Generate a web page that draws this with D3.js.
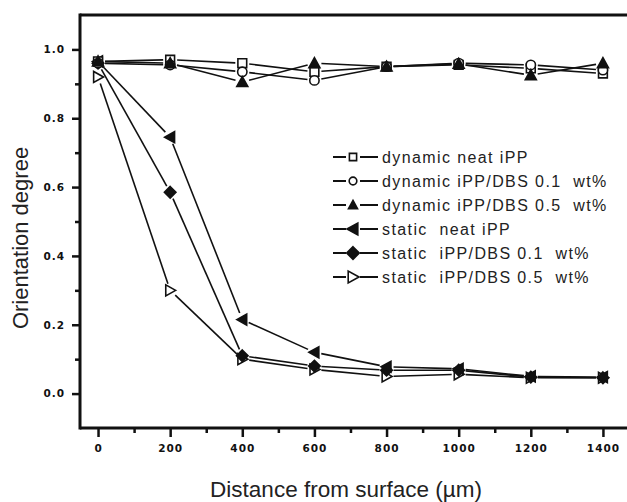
<!DOCTYPE html>
<html>
<head>
<meta charset="utf-8">
<script src="https://cdn.jsdelivr.net/npm/d3@7"></script>
<style>
  html, body { margin: 0; padding: 0; background: #fff; }
  svg { display: block; }
  text { font-family: "Liberation Sans", Arial, sans-serif; fill: #111; }
</style>
</head>
<body>
<div id="chart"></div>
<script>
// ---------- data ----------
const distances = [0, 200, 400, 600, 800, 1000, 1200, 1400];

const dynNeat   = [0.965, 0.970, 0.960, 0.935, 0.950, 0.955, 0.945, 0.930];
const dyn01     = [0.960, 0.955, 0.935, 0.910, 0.950, 0.960, 0.955, 0.940];
const dyn05     = [0.965, 0.960, 0.905, 0.960, 0.950, 0.958, 0.925, 0.960];
const statNeat  = [0.965, 0.745, 0.215, 0.120, 0.078, 0.072, 0.050, 0.048];
const stat01    = [0.960, 0.585, 0.110, 0.080, 0.068, 0.068, 0.048, 0.046];
const stat05    = [0.920, 0.300, 0.100, 0.070, 0.050, 0.056, 0.046, 0.046];

const seriesNames = [
  "dynamic neat iPP",
  "dynamic iPP/DBS 0.1  wt%",
  "dynamic iPP/DBS 0.5  wt%",
  "static  neat iPP",
  "static  iPP/DBS 0.1  wt%",
  "static  iPP/DBS 0.5  wt%"
];
const seriesMarkers = ["square", "circle", "triUp", "triLeft", "diamond", "triRight"];
const seriesFilled  = [false, false, true, true, true, false];

const xTicks = [0, 200, 400, 600, 800, 1000, 1200, 1400];
const xMinorTicks = [100, 300, 500, 700, 900, 1100, 1300];
const yTicks = [0.0, 0.2, 0.4, 0.6, 0.8, 1.0];
const yMinorTicks = [0.1, 0.3, 0.5, 0.7, 0.9];

const xTitle = "Distance from surface (\u00b5m)";
const yTitle = "Orientation degree";

// ---------- layout ----------
const W = 627, H = 502;
const svg = d3.select("#chart").append("svg").attr("width", W).attr("height", H);

const x = d3.scaleLinear().domain([-50, 1500]).range([80, 639]);
const y = d3.scaleLinear().domain([-0.1, 1.1]).range([428, 15]);

// frame (top line)
svg.append("line").attr("x1", x(-50)).attr("x2", x(1500))
  .attr("y1", y(1.1)).attr("y2", y(1.1))
  .attr("stroke", "#111").attr("stroke-width", 3);

// axes
const fmtY = d3.format(".1f");
const xAxis = svg.append("g").attr("transform", `translate(0,${y(-0.1)})`)
  .call(d3.axisBottom(x).tickValues(xTicks).tickSize(9).tickPadding(8).tickFormat(d3.format("d")));
const xMinor = svg.append("g").attr("transform", `translate(0,${y(-0.1)})`)
  .call(d3.axisBottom(x).tickValues(xMinorTicks).tickSize(5).tickFormat(""));
const yAxis = svg.append("g").attr("transform", `translate(${x(-50)},0)`)
  .call(d3.axisLeft(y).tickValues(yTicks).tickSize(8).tickPadding(7).tickFormat(fmtY));
const yMinor = svg.append("g").attr("transform", `translate(${x(-50)},0)`)
  .call(d3.axisLeft(y).tickValues(yMinorTicks).tickSize(5).tickFormat(""));

[xAxis, xMinor, yAxis, yMinor].forEach(g => {
  g.select(".domain").attr("stroke", "#111").attr("stroke-width", 3);
  g.selectAll(".tick line").attr("stroke", "#111").attr("stroke-width", 2.5);
  g.selectAll(".tick text")
    .style("font-family", "'DejaVu Sans', sans-serif")
    .style("font-weight", "bold").style("font-size", "10.5px")
    .style("letter-spacing", "1px").attr("fill", "#111");
});
xMinor.select(".domain").remove();
yMinor.select(".domain").remove();
xAxis.select(".domain").attr("d", `M${x(-50)},0H${x(1500)}`);
yAxis.select(".domain").attr("d", `M0,${y(-0.1) + 1.5}V${y(1.1) - 1.5}`);

// titles
svg.append("text").attr("x", 346).attr("y", 497).attr("text-anchor", "middle")
  .style("font-size", "22.5px").style("fill", "#222").text(xTitle);
svg.append("text").attr("transform", `translate(28,${238}) rotate(-90)`)
  .attr("text-anchor", "middle").style("font-size", "22px").style("fill", "#222").text(yTitle);

// ---------- markers ----------
function markerPath(type, s) {
  const h = s / 2;
  switch (type) {
    case "square": return `M${-h * 0.8},${-h * 0.8}h${1.6 * h}v${1.6 * h}h${-1.6 * h}Z`;
    case "circle": return d3.symbol(d3.symbolCircle, Math.PI * (h * 0.85) ** 2)();
    case "triUp": return `M0,${-h}L${h},${h * 0.8}L${-h},${h * 0.8}Z`;
    case "triLeft": return `M${-h},0L${h * 0.8},${-h}L${h * 0.8},${h}Z`;
    case "triRight": return `M${h},0L${-h * 0.8},${-h}L${-h * 0.8},${h}Z`;
    case "diamond": return `M0,${-h * 1.05}L${h * 1.05},0L0,${h * 1.05}L${-h * 1.05},0Z`;
  }
}

const allSeries = [dynNeat, dyn01, dyn05, statNeat, stat01, stat05];
const gap = 7;
const drawOrder = [5, 4, 3, 0, 1, 2];

drawOrder.forEach(i => {
  const vals = allSeries[i];
  const pts = distances.map((d, k) => [x(d), y(vals[k])]);
  const g = svg.append("g");
  const segs = d3.pairs(pts).map(([a, b]) => {
    const dx = b[0] - a[0], dy = b[1] - a[1];
    const L = Math.hypot(dx, dy);
    const ux = dx / L, uy = dy / L;
    return [[a[0] + ux * gap, a[1] + uy * gap], [b[0] - ux * gap, b[1] - uy * gap]];
  });
  g.selectAll("line").data(segs).join("line")
    .attr("x1", d => d[0][0]).attr("y1", d => d[0][1])
    .attr("x2", d => d[1][0]).attr("y2", d => d[1][1])
    .attr("stroke", "#111").attr("stroke-width", 1.6);
  g.selectAll("path").data(pts).join("path")
    .attr("transform", d => `translate(${d[0]},${d[1]})`)
    .attr("d", markerPath(seriesMarkers[i], 11))
    .attr("fill", seriesFilled[i] ? "#111" : "#fff")
    .attr("stroke", "#111").attr("stroke-width", 1.6);
});

// ---------- legend ----------
const legY0 = 157, legDy = 24;
const leg = svg.append("g");
seriesNames.forEach((name, i) => {
  const yy = legY0 + i * legDy;
  const gg = leg.append("g").attr("transform", `translate(0,${yy})`);
  gg.append("line").attr("x1", 333).attr("x2", 378).attr("y1", 0).attr("y2", 0)
    .attr("stroke", "#111").attr("stroke-width", 2);
  gg.append("rect").attr("x", 346).attr("y", -4).attr("width", 14).attr("height", 8)
    .attr("fill", "#fff");
  gg.append("path").attr("transform", "translate(353,0)")
    .attr("d", markerPath(seriesMarkers[i], i < 3 ? 9 : 12))
    .attr("fill", seriesFilled[i] ? "#111" : "#fff")
    .attr("stroke", "#111").attr("stroke-width", 1.6);
  gg.append("text").attr("x", 382).attr("y", 0).attr("dy", "0.35em")
    .style("font-size", "16px").style("letter-spacing", "1.4px").style("fill", "#222")
    .style("white-space", "pre").attr("xml:space", "preserve").text(name);
});
</script>
</body>
</html>
